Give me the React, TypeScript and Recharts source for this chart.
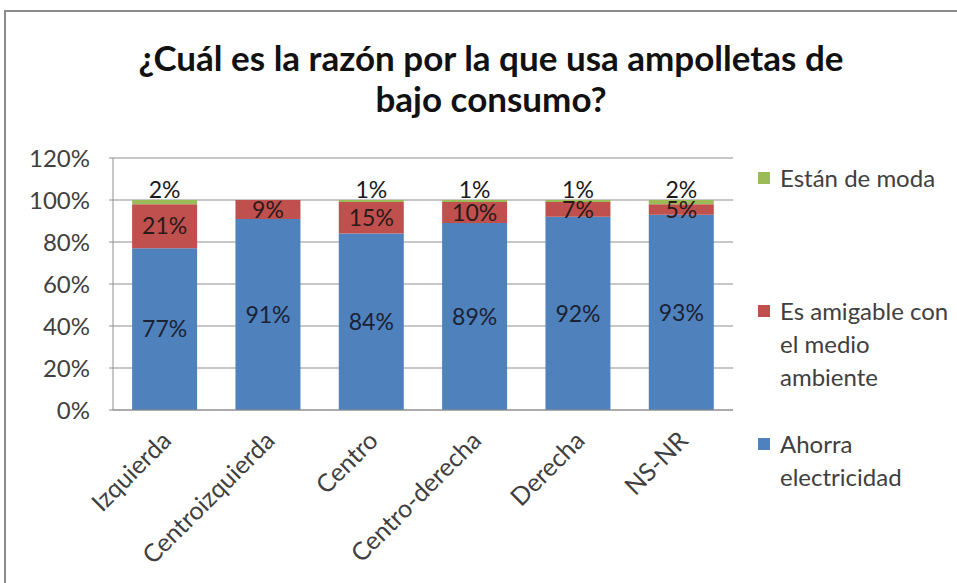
import React from 'react';
import { BarChart, Bar, XAxis, YAxis, CartesianGrid, LabelList } from 'recharts';

const categories = ['Izquierda', 'Centroizquierda', 'Centro', 'Centro-derecha', 'Derecha', 'NS-NR'];
const ahorra = [77, 91, 84, 89, 92, 93];
const amigable = [21, 9, 15, 10, 7, 5];
const moda = [2, 0, 1, 1, 1, 2];
const yTicks = [0, 20, 40, 60, 80, 100, 120];

const SERIES = [
  { key: 'ahorra', name: 'Ahorra electricidad', lines: ['Ahorra', 'electricidad'], color: '#4F81BD' },
  { key: 'amigable', name: 'Es amigable con el medio ambiente', lines: ['Es amigable con', 'el medio', 'ambiente'], color: '#C0504D' },
  { key: 'moda', name: 'Están de moda', lines: ['Están de moda'], color: '#9BBB59' },
];

const data = categories.map((c, i) => ({ name: c, ahorra: ahorra[i], amigable: amigable[i], moda: moda[i] }));

const FONT = 'Lato, "Open Sans", sans-serif';

const XTick = (props: any) => {
  const { x, y, payload } = props;
  return (
    <g transform={`translate(${x + 4},${y + 20})`}>
      <text transform="rotate(-45)" textAnchor="end" fontSize={25} fill="#404040" fontFamily={FONT} dy={6}>
        {payload.value}
      </text>
    </g>
  );
};

const legendTops: Record<string, number> = { moda: 161, amigable: 294, ahorra: 427 };

const LegendBox = () => (
  <div style={{ position: 'absolute', left: 758, top: 0, width: 200 }}>
    {SERIES.slice().reverse().map((s) => (
      <div key={s.key} style={{ position: 'absolute', top: legendTops[s.key], left: 0, fontFamily: FONT, fontSize: 24, color: '#404040', lineHeight: '33px' }}>
        <span style={{ position: 'absolute', left: 0, top: 11, width: 12, height: 12, background: s.color }} />
        <div style={{ marginLeft: 22 }}>
          {s.lines.map((l, i) => (
            <div key={i} style={{ whiteSpace: 'nowrap' }}>{l}</div>
          ))}
        </div>
      </div>
    ))}
  </div>
);

const fmt = (v: any) => (v ? `${v}%` : '');

export default function App() {
  return (
    <div style={{ position: 'fixed', left: 0, top: 0, width: 957, height: 583, overflow: 'hidden', background: '#fff' }}>
      <div style={{ position: 'absolute', left: 4, top: 10, width: 1100, height: 1100, border: '2px solid #8a8a8a', boxSizing: 'border-box' }} />
      <div style={{ position: 'absolute', left: 0, top: 37, width: 982, textAlign: 'center', fontFamily: FONT, fontWeight: 700, fontSize: 35, lineHeight: '41px', color: '#111' }}>
        ¿Cuál es la razón por la que usa ampolletas de<br />bajo consumo?
      </div>
      <div style={{ position: 'absolute', left: 0, top: 0 }}>
        <BarChart width={957} height={583} data={data} margin={{ top: 158, right: 224, bottom: 0, left: 0 }} barCategoryGap="18.5%">
          <CartesianGrid vertical={false} stroke="#8f8f8f" strokeWidth={1} />
          <XAxis dataKey="name" height={173} tick={<XTick />} tickLine={false} axisLine={{ stroke: '#8f8f8f' }} interval={0} />
          <YAxis width={113} domain={[0, 120]} ticks={yTicks} tickFormatter={(v: any) => `${v}%`} tick={{ fontSize: 24, fill: '#404040', fontFamily: FONT }} tickSize={4} tickMargin={19} tickLine={{ stroke: '#8f8f8f' }} axisLine={{ stroke: '#8f8f8f' }} />
          <Bar dataKey="ahorra" name="Ahorra electricidad" stackId="a" fill="#4F81BD" isAnimationActive={false}>
            <LabelList dataKey="ahorra" position="center" formatter={fmt} fill="#1b2233" fontSize={23} fontFamily={FONT} />
          </Bar>
          <Bar dataKey="amigable" name="Es amigable con el medio ambiente" stackId="a" fill="#C0504D" isAnimationActive={false}>
            <LabelList dataKey="amigable" position="center" formatter={fmt} fill="#2a1a1a" fontSize={23} fontFamily={FONT} />
          </Bar>
          <Bar dataKey="moda" name="Están de moda" stackId="a" fill="#9BBB59" isAnimationActive={false}>
            <LabelList dataKey="moda" position="top" formatter={fmt} fill="#1a1a1a" fontSize={23} fontFamily={FONT} offset={2} />
          </Bar>
        </BarChart>
      </div>
      <LegendBox />
    </div>
  );
}
